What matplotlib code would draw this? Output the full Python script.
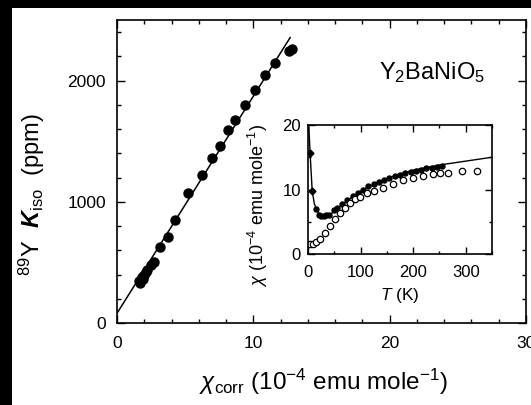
import matplotlib
matplotlib.use("Agg")
import matplotlib.pyplot as plt
from matplotlib.patches import Rectangle
from matplotlib.ticker import MultipleLocator

plt.rcParams['font.family'] = ['Liberation Sans', 'DejaVu Sans']
plt.rcParams['mathtext.fontset'] = 'custom'
plt.rcParams['mathtext.rm'] = 'Liberation Sans'
plt.rcParams['mathtext.it'] = 'Liberation Sans:italic'
plt.rcParams['mathtext.bf'] = 'Liberation Sans:bold'
plt.rcParams['mathtext.bfit'] = 'Liberation Sans:bold:italic'

# Main panel: 89Y Knight shift vs corrected susceptibility
chi_corr = [1.6, 1.7, 1.8, 1.9, 2.0, 2.1, 2.2, 2.5, 2.7, 3.15, 3.76, 4.25, 5.23, 6.2,
            6.94, 7.56, 8.17, 8.66, 9.39, 10.12, 10.86, 11.6, 12.58, 12.8]
K_iso = [350, 330, 380, 360, 400, 420, 440, 480, 500, 631, 713, 851, 1072, 1223,
         1361, 1463, 1595, 1678, 1802, 1920, 2050, 2146, 2242, 2262]
fit_x = [0.0, 12.7]
fit_y = [80, 2355]

# Inset: chi vs T
T_line = [1.5, 4, 8, 12, 17, 23, 30, 40, 50, 60, 75, 90, 110, 130, 150, 175, 200,
          225, 250, 275, 300, 325, 350]
chi_line = [20.0, 15.6, 9.8, 7.8, 6.8, 6.0, 5.8, 6.0, 6.6, 7.3, 8.3, 9.2, 10.2, 11.0,
            11.7, 12.4, 13.0, 13.4, 13.8, 14.1, 14.4, 14.7, 15.0]
T_diam = [4, 8]
chi_diam = [15.6, 9.8]
T_fill = [15, 20, 25, 30, 35, 40, 50, 55, 65, 75, 85, 95, 105, 115, 125, 135, 145,
          155, 165, 175, 185, 195, 205, 215, 225, 235, 245, 255]
chi_fill = [7.0, 6.1, 5.9, 5.9, 6.0, 6.1, 6.8, 7.2, 7.8, 8.4, 9.0, 9.5, 10.0, 10.5,
            10.9, 11.2, 11.5, 11.8, 12.1, 12.3, 12.5, 12.7, 12.9, 13.1, 13.3, 13.4,
            13.5, 13.6]
T_open = [4, 10, 16, 23, 32, 42, 51, 61, 70, 80, 90, 99, 112, 125, 143, 162, 181,
          200, 219, 238, 251, 267, 293, 322]
chi_open = [1.6, 1.6, 1.8, 2.3, 3.3, 4.4, 5.5, 6.3, 7.2, 7.9, 8.5, 8.8, 9.4, 9.8,
            10.3, 10.9, 11.4, 11.8, 12.1, 12.4, 12.5, 12.6, 12.8, 12.8]

W, H = 531, 405
fig = plt.figure(figsize=(W / 100, H / 100), dpi=100)
fig.patch.set_facecolor('white')
fig.patches.append(Rectangle((0, 0), 12 / W, 1, transform=fig.transFigure,
                             facecolor='black', edgecolor='none', zorder=-10))
fig.patches.append(Rectangle((0, 1 - 8 / H), 1, 8 / H, transform=fig.transFigure,
                             facecolor='black', edgecolor='none', zorder=-10))

ax = fig.add_axes([117 / W, 1 - 323 / H, (526 - 117) / W, (323 - 20) / H])
ax.plot(fit_x, fit_y, color='black', lw=1.1)
ax.plot(chi_corr, K_iso, 'o', color='black', ms=6.5)
ax.set_xlim(0, 30)
ax.set_ylim(0, 2500)
ax.xaxis.set_major_locator(MultipleLocator(10))
ax.xaxis.set_minor_locator(MultipleLocator(2))
ax.yaxis.set_major_locator(MultipleLocator(1000))
ax.yaxis.set_minor_locator(MultipleLocator(200))
ax.tick_params(which='both', direction='in', top=True, right=True, labelsize=12.5,
               width=1.0)
ax.tick_params(which='major', length=6)
ax.tick_params(axis='x', which='major', pad=9)
ax.tick_params(axis='y', which='major', pad=8)
ax.tick_params(which='minor', length=3)
for s in ax.spines.values():
    s.set_linewidth(1.2)
ax.set_xlabel(r'$\chi_{\rm corr}$ (10$^{-4}$ emu mole$^{-1}$)', fontsize=17.5)
ax.xaxis.set_label_coords(0.505, -0.145)
ax.set_ylabel(r'$^{89}$Y  $\mathbfit{K}_{\rm iso}$  (ppm)', fontsize=17)
ax.yaxis.set_label_coords(-0.172, 0.425)
ax.text(0.90, 0.805, r'Y$_2$BaNiO$_5$', transform=ax.transAxes, ha='right',
        va='baseline', fontsize=17)

ins = fig.add_axes([308 / W, 1 - 254 / H, (492 - 308) / W, (254 - 125) / H])
ins.plot(T_line, chi_line, color='black', lw=1.0)
ins.plot(T_diam, chi_diam, 'D', color='black', ms=3.5)
ins.plot(T_fill, chi_fill, 'o', color='black', ms=3.6)
ins.plot(T_open, chi_open, 'o', mfc='white', mec='black', mew=0.9, ms=4.6)
ins.set_xlim(0, 350)
ins.set_ylim(0, 20)
ins.xaxis.set_major_locator(MultipleLocator(100))
ins.xaxis.set_minor_locator(MultipleLocator(50))
ins.yaxis.set_major_locator(MultipleLocator(10))
ins.yaxis.set_minor_locator(MultipleLocator(5))
ins.tick_params(which='both', direction='in', top=True, right=True, labelsize=12,
                width=1.0)
ins.tick_params(which='major', length=5, pad=8)
ins.tick_params(axis='y', which='major', pad=5)
ins.tick_params(which='minor', length=2.5)
for s in ins.spines.values():
    s.set_linewidth(1.2)
ins.set_xlabel(r'$T$ (K)', fontsize=12.5, labelpad=4)
ins.set_ylabel(r'$\chi$ (10$^{-4}$ emu mole$^{-1}$)', fontsize=13)
ins.yaxis.set_label_coords(-0.207, 0.38)

fig.savefig('out.png', dpi=100)
